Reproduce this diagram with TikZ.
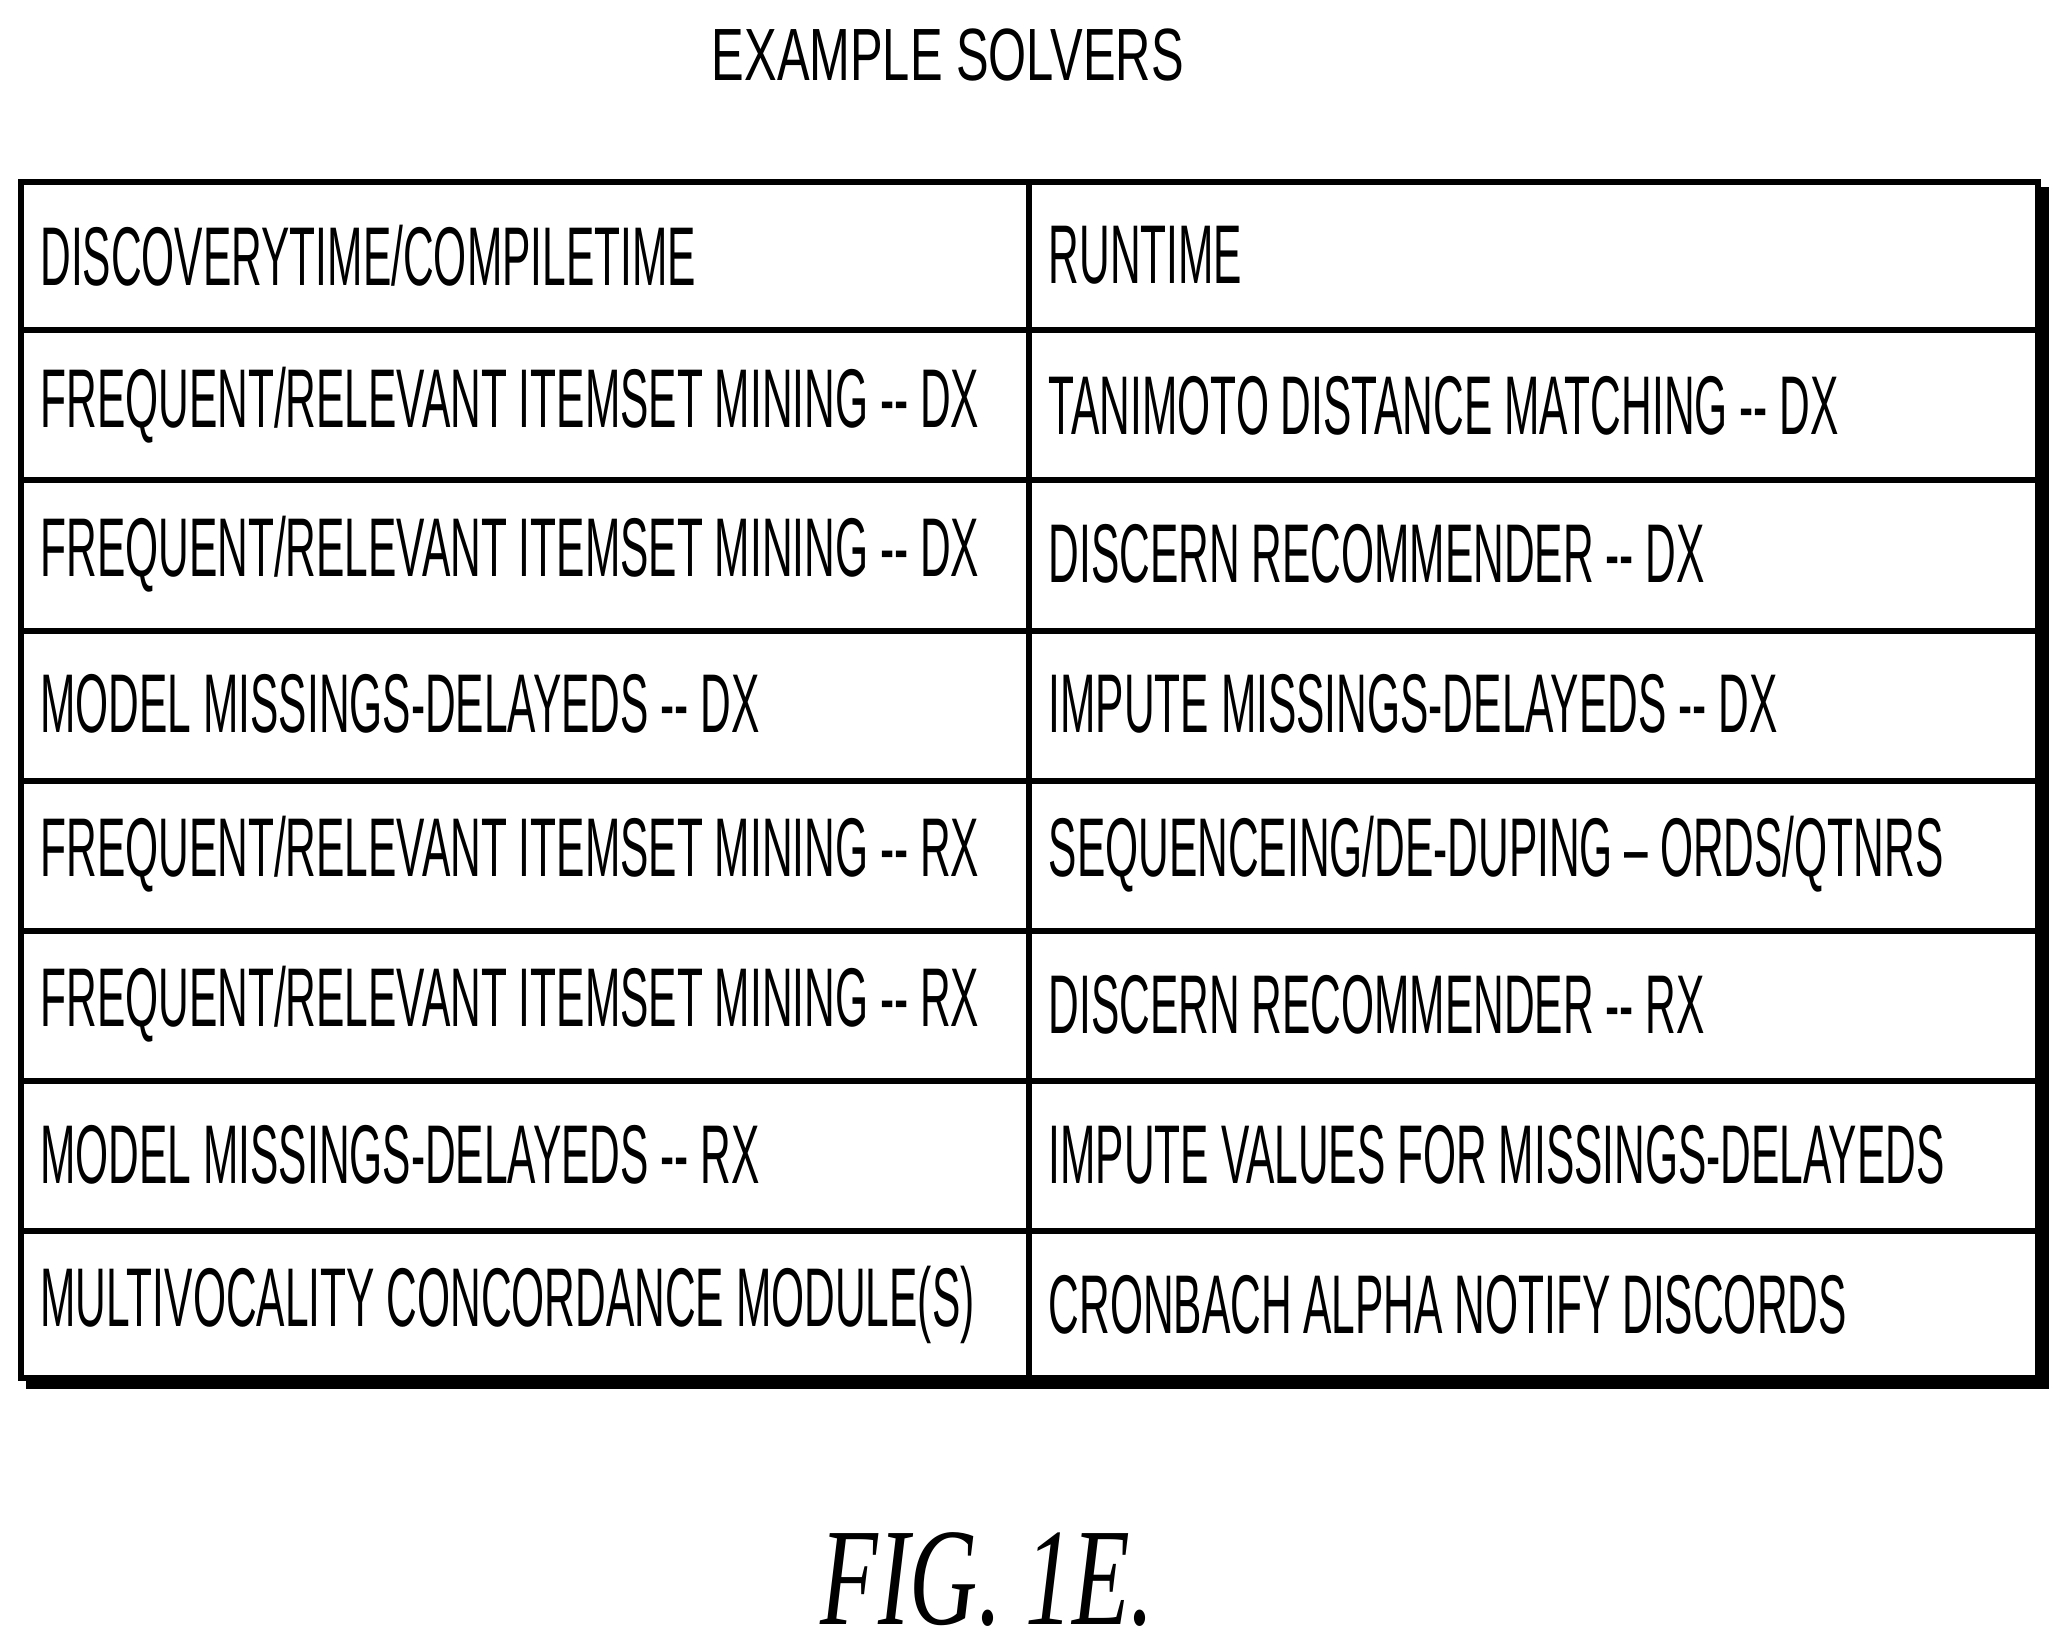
\documentclass[tikz,border=0pt]{standalone}
\usepackage{fontspec}
\setmainfont{Liberation Sans}
\newfontfamily\figfont{Liberation Serif}
\newcommand{\cnd}[2][0.51]{\scalebox{#1}[1]{#2}}
\newcommand{\dd}{-{}-}
\begin{document}
\begin{tikzpicture}[x=0.01cm,y=-0.01cm,
  cell/.style={anchor=west,inner sep=0pt,font=\fontsize{18}{18}\selectfont},
  grid/.style={line width=1.3pt}]
\useasboundingbox (0,0) rectangle (1568,1255);
\node[font=\fontsize{16}{16}\selectfont] (title) at (720,42) {\cnd[0.66]{EXAMPLE SOLVERS}};
% shadow
\draw[line width=3pt] (20,1050) -- (1551,1050) -- (1551,142);
\draw[grid] (16,138) rectangle (1548,1047);
\draw[grid] (782,138) -- (782,1047);
\foreach \y in {251,365,479,593,707,821,935} \draw[grid] (16,\y) -- (1548,\y);
\node[cell] (l0) at (30,194) {\cnd{DISCOVERYTIME/COMPILETIME}};
\node[cell] (r0) at (796,194) {\cnd{RUNTIME}};
\node[cell] (l1) at (30,308) {\cnd{FREQUENT/RELEVANT ITEMSET MINING \dd\ DX}};
\node[cell] (r1) at (796,308) {\cnd{TANIMOTO DISTANCE MATCHING \dd\ DX}};
\node[cell] (l2) at (30,421) {\cnd{FREQUENT/RELEVANT ITEMSET MINING \dd\ DX}};
\node[cell] (r2) at (796,421) {\cnd{DISCERN RECOMMENDER \dd\ DX}};
\node[cell] (l3) at (30,535) {\cnd{MODEL MISSINGS-DELAYEDS \dd\ DX}};
\node[cell] (r3) at (796,535) {\cnd{IMPUTE MISSINGS-DELAYEDS \dd\ DX}};
\node[cell] (l4) at (30,649) {\cnd{FREQUENT/RELEVANT ITEMSET MINING \dd\ RX}};
\node[cell] (r4) at (796,649) {\cnd{SEQUENCEING/DE-DUPING – ORDS/QTNRS}};
\node[cell] (l5) at (30,763) {\cnd{FREQUENT/RELEVANT ITEMSET MINING \dd\ RX}};
\node[cell] (r5) at (796,763) {\cnd{DISCERN RECOMMENDER \dd\ RX}};
\node[cell] (l6) at (30,877) {\cnd{MODEL MISSINGS-DELAYEDS \dd\ RX}};
\node[cell] (r6) at (796,877) {\cnd{IMPUTE VALUES FOR MISSINGS-DELAYEDS}};
\node[cell] (l7) at (30,991) {\cnd{MULTIVOCALITY CONCORDANCE MODULE(S)}};
\node[cell] (r7) at (796,991) {\cnd{CRONBACH ALPHA NOTIFY DISCORDS}};
\node[font=\figfont\itshape\fontsize{30}{30}\selectfont] (fig) at (750,1200) {\cnd[0.68]{FIG. 1E.}};
\end{tikzpicture}
\end{document}
